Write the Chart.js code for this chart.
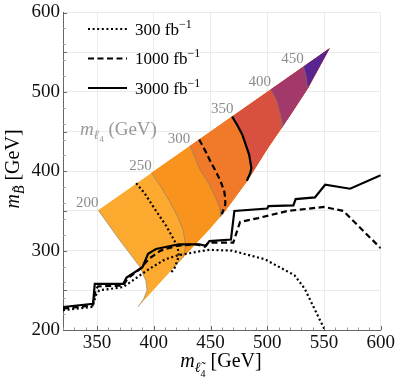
<!DOCTYPE html>
<html><head><meta charset="utf-8">
<script src="https://cdn.jsdelivr.net/npm/chart.js@4.4.0/dist/chart.umd.min.js"></script>
<style>html,body{margin:0;padding:0;background:#fff}</style>
</head><body>
<canvas id="c" width="399" height="387"></canvas>
<script>
// ---------- data (GeV) ----------
const xTicks = [320, 330, 340, 350, 360, 370, 380, 390, 400, 410, 420, 430, 440, 450, 460, 470, 480, 490,
  500, 510, 520, 530, 540, 550, 560, 570, 580, 590, 600];
const xLabelTicks = [350, 400, 450, 500, 550, 600];
const yTicks = [200, 220, 240, 250, 260, 280, 300, 320, 340, 350, 360, 380, 400, 420, 440, 450, 460, 480,
  500, 520, 540, 550, 560, 580, 600];
const yLabelTicks = [200, 300, 400, 500, 600];

// m_l4 contour levels and band colours
const mL4Levels = [200, 250, 300, 350, 400, 450];
const bandColors = ['#FCA92F', '#F8931D', '#F07A2A', '#D8503F', '#A3386B', '#5A2490'];

// m_l4 contours (from diagonal edge down to lower edge)
const arc200X = [351, 370, 388, 393, 394, 391, 386];
const arc200Y = [351, 313, 279, 262, 250, 239, 229];
const arc250X = [398, 406, 414, 421, 426, 428, 426, 418];
const arc250Y = [398, 381, 362, 343, 325, 306, 292, 280];
const arc300X = [432, 440, 449, 456, 458.5, 459];
const arc300Y = [432, 404, 383, 362, 352, 343];
const arc350X = [470, 478, 484, 486.5, 486, 483];
const arc350Y = [470, 446, 421, 404, 397, 389];
const arc400X = [503, 508, 511, 513, 513];
const arc400Y = [503, 490, 475, 462, 455];
const arc450X = [532, 534.5, 535.5];
const arc450Y = [532, 518, 505];

// lower edge of the coloured region
const lowerEdgeX = [386, 418, 449, 463, 483, 500, 513, 520, 536, 555];
const lowerEdgeY = [229, 279, 327, 350, 389, 428, 455, 470, 505, 555];

// luminosity contours inside the region
const lumiLabels = ['300 fb', '1000 fb', '3000 fb'];
const in300X = [384.5, 392, 402, 411, 418, 421, 422, 421, 418, 415];
const in300Y = [385, 372, 350, 331, 313, 304, 296, 288, 277, 272];
const in1000X = [440, 446, 450, 455, 459, 462, 463, 463, 460];
const in1000Y = [440, 424, 412, 399, 387, 375, 366, 358, 346];
const in3000X = [469, 474, 478, 484, 486, 485, 482];
const in3000Y = [469, 457, 446, 421, 404, 398, 388];

// exclusion curves
const ex300X = [320, 346, 349, 352, 373, 381, 396, 410, 421, 440, 449, 469, 498, 524, 533, 550, 551];
const ex300Y = [225, 229, 244, 250, 254, 262, 277, 289, 294, 299, 301, 300, 289, 269, 252, 202, 200];
const ex1000X = [320, 346, 349, 351, 373, 377, 388, 396, 406, 420, 437, 445, 448, 470, 473, 476, 492, 518, 550, 567, 600];
const ex1000Y = [227, 231, 252, 255, 256, 265, 277, 290, 300, 306, 308, 305, 310, 310, 323, 336, 341, 350, 355, 350, 303];
const ex3000X = [320, 346.5, 348, 373, 376, 390, 395, 402, 422, 440, 446, 449, 468, 471, 500, 501, 523, 525, 542, 551, 573, 600];
const ex3000Y = [229, 233, 258, 258, 266, 279, 296, 302, 308, 308, 306, 312, 314, 350, 353, 356, 357, 365, 367, 383, 378, 395];

// ---------- helpers ----------
const pts = (xs, ys) => xs.map((x, i) => ({x: x, y: ys[i]}));
const arcsX = [arc200X, arc250X, arc300X, arc350X, arc400X, arc450X];
const arcsY = [arc200Y, arc250Y, arc300Y, arc350Y, arc400Y, arc450Y];

function layerPoly(k) {
  const p = pts(arcsX[k], arcsY[k]);
  const endX = arcsX[k][arcsX[k].length - 1];
  lowerEdgeX.forEach((x, i) => { if (x > endX + 0.5) p.push({x: x, y: lowerEdgeY[i]}); });
  return p;
}

const SERIF = '"Liberation Serif", "DejaVu Serif", serif';
const fnt = (s, it) => (it ? 'italic ' : '') + s + 'px ' + SERIF;

const datasets = [];
mL4Levels.forEach((lvl, k) => {
  datasets.push({label: 'band' + lvl, data: layerPoly(k), fill: 'shape', backgroundColor: bandColors[k],
    borderWidth: 0, borderColor: 'rgba(0,0,0,0)', pointRadius: 0, order: 90 - k});
});
mL4Levels.forEach((lvl, k) => {
  datasets.push({label: 'arc' + lvl, data: pts(arcsX[k], arcsY[k]), fill: false,
    borderColor: 'rgba(120,120,120,0.55)', borderWidth: 1, pointRadius: 0, order: 50});
});
const styles = [
  {dash: [2, 2.6], cap: 'butt'},
  {dash: [6, 3.5], cap: 'butt'},
  {dash: [], cap: 'butt'}
];
const inside = [[in300X, in300Y], [in1000X, in1000Y], [in3000X, in3000Y]];
const excl = [[ex300X, ex300Y], [ex1000X, ex1000Y], [ex3000X, ex3000Y]];
inside.forEach((c, i) => {
  datasets.push({label: 'in' + i, data: pts(c[0], c[1]), fill: false, borderColor: '#000', borderWidth: 2.2,
    borderDash: styles[i].dash, borderCapStyle: styles[i].cap, pointRadius: 0, order: 1});
});
excl.forEach((c, i) => {
  datasets.push({label: lumiLabels[i], isLegend: true, data: pts(c[0], c[1]), fill: false, borderColor: '#000',
    borderWidth: 2.2, borderDash: styles[i].dash, borderCapStyle: styles[i].cap, pointRadius: 0, order: 0});
});

function drawRich(ctx, segs, x, y, align) {
  let w = 0;
  segs.forEach(s => { ctx.font = s.font; w += ctx.measureText(s.t).width; });
  let cx = align === 'center' ? x - w / 2 : x;
  segs.forEach(s => { ctx.font = s.font; ctx.fillText(s.t, cx, y + (s.dy || 0)); cx += ctx.measureText(s.t).width; });
}

const textPlugin = {
  id: 'textPlugin',
  afterDatasetsDraw(chart) {
    const ctx = chart.ctx, xs = chart.scales.x, ys = chart.scales.y;
    ctx.save();
    ctx.fillStyle = '#8c8c8c';
    ctx.font = fnt(15, false);
    ctx.textAlign = 'center';
    ctx.textBaseline = 'middle';
    mL4Levels.forEach((lvl, k) => {
      const px = xs.getPixelForValue(arcsX[k][0]), py = ys.getPixelForValue(arcsY[k][0]);
      ctx.fillText(String(lvl), px - 11, py - 7);
    });
    ctx.textAlign = 'left';
    ctx.textBaseline = 'alphabetic';
    ctx.fillStyle = '#999999';
    drawRich(ctx, [
      {t: 'm', font: fnt(19, true)}, {t: 'ℓ', font: fnt(13, true), dy: 4}, {t: '4', font: fnt(9, false), dy: 7},
      {t: ' (GeV)', font: fnt(19, false)}], 80, 135, 'left');
    ctx.restore();
  },
  afterDraw(chart) {
    const ctx = chart.ctx, xs = chart.scales.x, ys = chart.scales.y, a = chart.chartArea;
    ctx.save();
    // inward frame ticks
    ctx.lineWidth = 1;
    xs.ticks.forEach(t => {
      const px = Math.round(xs.getPixelForValue(t.value)) + 0.5;
      const major = t.value % 50 === 0;
      ctx.strokeStyle = major ? '#666' : '#999';
      ctx.beginPath(); ctx.moveTo(px, a.bottom); ctx.lineTo(px, a.bottom - (major ? 4 : 2.5)); ctx.stroke();
    });
    ys.ticks.forEach(t => {
      const py = Math.round(ys.getPixelForValue(t.value)) + 0.5;
      const major = t.value % 50 === 0;
      ctx.strokeStyle = major ? '#666' : '#999';
      ctx.beginPath(); ctx.moveTo(a.left, py); ctx.lineTo(a.left + (major ? 4 : 2.5), py); ctx.stroke();
    });
    ctx.fillStyle = '#000';
    ctx.textBaseline = 'alphabetic';
    // legend
    const legendSets = chart.data.datasets.filter(d => d.isLegend);
    legendSets.forEach((d, i) => {
      const cy = 29 + i * 29.5;
      ctx.save();
      ctx.strokeStyle = d.borderColor; ctx.lineWidth = d.borderWidth; ctx.setLineDash(d.borderDash);
      ctx.beginPath(); ctx.moveTo(88, cy); ctx.lineTo(127, cy); ctx.stroke();
      ctx.restore();
      drawRich(ctx, [{t: d.label, font: fnt(17, false)}, {t: '−1', font: fnt(12, false), dy: -7}], 135, cy + 5.5, 'left');
    });
    // x title
    drawRich(ctx, [
      {t: 'm', font: fnt(20, true)}, {t: 'ℓ̃', font: fnt(14, true), dy: 5}, {t: '4', font: fnt(10, false), dy: 10},
      {t: ' [GeV]', font: fnt(20, false)}], 221, 367, 'center');
    // y title
    ctx.translate(19, 169);
    ctx.rotate(-Math.PI / 2);
    drawRich(ctx, [
      {t: 'm', font: fnt(20, true)}, {t: 'B̃', font: fnt(14, true), dy: 5},
      {t: ' [GeV]', font: fnt(20, false)}], 0, 0, 'center');
    ctx.restore();
  }
};

const gridCol = ctx => (ctx.tick && ctx.tick.value % 50 === 0 ? '#ebebeb' : 'rgba(0,0,0,0)');

new Chart(document.getElementById('c'), {
  type: 'line',
  data: {datasets: datasets},
  options: {
    responsive: false, animation: false, devicePixelRatio: 1,
    layout: {padding: {top: 10, right: 16, left: 0, bottom: 0}},
    plugins: {legend: {display: false}, tooltip: {enabled: false}},
    elements: {point: {radius: 0}, line: {tension: 0}},
    scales: {
      x: {
        type: 'linear', min: 320, max: 600,
        afterBuildTicks: s => { s.ticks = xTicks.map(v => ({value: v})); },
        afterFit: s => { s.height = 57; },
        grid: {color: gridCol, drawTicks: false, lineWidth: 1},
        border: {color: '#666', width: 1},
        ticks: {padding: 4, color: '#111', maxRotation: 0, autoSkip: false,
          font: {family: SERIF, size: 19, lineHeight: 1},
          callback: v => (xLabelTicks.includes(v) ? String(v) : '')}
      },
      y: {
        type: 'linear', min: 200, max: 600,
        afterBuildTicks: s => { s.ticks = yTicks.map(v => ({value: v})); },
        afterFit: s => { s.width = 63; },
        grid: {color: gridCol, drawTicks: false, lineWidth: 1},
        border: {color: '#666', width: 1},
        ticks: {padding: 3, color: '#111', autoSkip: false,
          font: {family: SERIF, size: 19, lineHeight: 1},
          callback: v => (yLabelTicks.includes(v) ? String(v) : '')}
      }
    }
  },
  plugins: [textPlugin]
});
</script>
</body></html>
